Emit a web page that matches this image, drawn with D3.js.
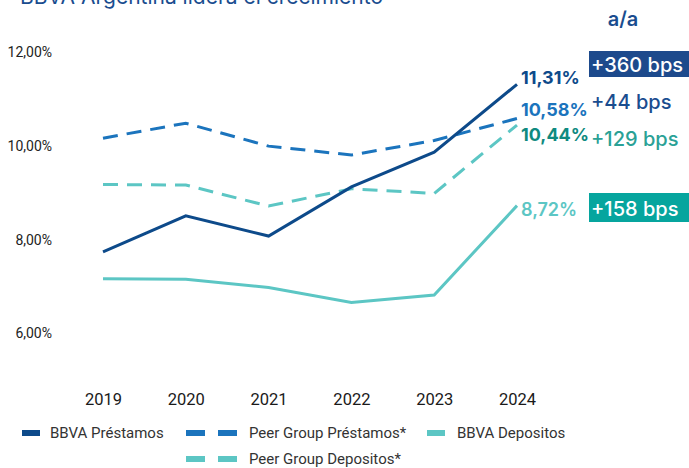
<!DOCTYPE html>
<html><head><meta charset="utf-8">
<script src="https://cdn.jsdelivr.net/npm/d3@7"></script>
<style>body{margin:0;background:#fff}svg{display:block}</style>
</head><body>
<svg id="c" width="689" height="468"></svg>
<script>
const years = ["2019","2020","2021","2022","2023","2024"];
const bbvaPrestamos = [7.73, 8.50, 8.07, 9.12, 9.86, 11.31];
const peerPrestamos = [10.16, 10.48, 9.99, 9.80, 10.11, 10.58];
const bbvaDepositos = [7.16, 7.15, 6.97, 6.65, 6.81, 8.72];
const peerDepositos = [9.17, 9.16, 8.71, 9.08, 8.98, 10.44];
const yTicks = [6, 8, 10, 12];
const endLabels = ["11,31%", "10,58%", "10,44%", "8,72%"];
const bpsLabels = ["+360 bps", "+44 bps", "+129 bps", "+158 bps"];
const legendNames = ["BBVA Préstamos", "Peer Group Préstamos*", "BBVA Depositos", "Peer Group Depositos*"];

const svg = d3.select("#c");
const x = d3.scalePoint().domain(years).range([103, 517]);
const y = d3.scaleLinear().domain([6, 12]).range([333, 52]);

// title (cropped at the top, as in the reference)
svg.append("text").attr("x", 383).attr("y", 4).attr("text-anchor", "end")
  .attr("font-family", "Inter").attr("font-size", 21).attr("fill", "#1a4d8f")
  .text("BBVA Argentina lidera el crecimiento");

svg.append("text").attr("x", 623).attr("y", 26).attr("text-anchor", "middle")
  .attr("font-family", "Inter").attr("font-size", 20).attr("font-weight", 600).attr("fill", "#1a4d8f")
  .text("a/a");

// y axis
const yAxis = d3.axisLeft(y).tickValues(yTicks).tickSize(0).tickPadding(0)
  .tickFormat(d => d3.format(".2f")(d).replace(".", ",") + "%");
const ya = svg.append("g").attr("transform", "translate(52,0)").call(yAxis);
ya.select(".domain").remove();
ya.selectAll("text").attr("font-family", "Roboto").attr("font-size", 14).attr("fill", "#222").attr("dy", "0.35em");

// x axis
const xAxis = d3.axisBottom(x).tickSize(0).tickPadding(0);
const xa = svg.append("g").attr("transform", "translate(0,393)").call(xAxis);
xa.select(".domain").remove();
xa.selectAll("text").attr("font-family", "Roboto").attr("font-size", 16.5).attr("fill", "#1a1a1a");

const series = [
  {vals: bbvaPrestamos, color: "#0d4a8a", dash: null},
  {vals: peerPrestamos, color: "#1b74bd", dash: "15,9"},
  {vals: bbvaDepositos, color: "#5cc6c4", dash: null},
  {vals: peerDepositos, color: "#5cc6c4", dash: "15,9"}
];
const line = d3.line().x((d, i) => x(years[i])).y(d => y(d));
[2, 3, 1, 0].forEach(k => {
  const s = series[k];
  svg.append("path").datum(s.vals).attr("d", line).attr("fill", "none")
    .attr("stroke", s.color).attr("stroke-width", 3)
    .attr("stroke-dasharray", s.dash);
});

// end labels
const endCfg = [
  {y: 84, color: "#0d4a8a", w: 700},
  {y: 116, color: "#1b74bd", w: 700},
  {y: 141, color: "#0f8a80", w: 700},
  {y: 216, color: "#5cc6c4", w: 600}
];
endCfg.forEach((c, i) => {
  svg.append("text").attr("x", 521).attr("y", c.y)
    .attr("font-family", "Inter").attr("font-size", 18).attr("font-weight", c.w)
    .attr("fill", c.color).text(endLabels[i]);
});

// bps labels
svg.append("rect").attr("x", 589).attr("y", 51).attr("width", 100).attr("height", 26).attr("fill", "#1d4a8c");
svg.append("rect").attr("x", 589).attr("y", 193).attr("width", 100).attr("height", 29).attr("fill", "#06a59e");
const bpsCfg = [
  {y: 72, color: "#fff"},
  {y: 109, color: "#1a4d8f"},
  {y: 146, color: "#2aa196"},
  {y: 216, color: "#fff"}
];
bpsCfg.forEach((c, i) => {
  svg.append("text").attr("x", 591).attr("y", c.y)
    .attr("font-family", "Inter").attr("font-size", 20).attr("font-weight", 500)
    .attr("fill", c.color).text(bpsLabels[i]);
});

// legend
const legCfg = [
  {x0: 22, yy: 433, color: "#0d4a8a", dashed: false, tx: 50},
  {x0: 186, yy: 433, color: "#1b74bd", dashed: true, tx: 249},
  {x0: 427, yy: 433, color: "#5cc6c4", dashed: false, tx: 457},
  {x0: 186, yy: 459, color: "#5cc6c4", dashed: true, tx: 249}
];
legCfg.forEach((c, i) => {
  if (c.dashed) {
    svg.append("rect").attr("x", c.x0).attr("y", c.yy - 3).attr("width", 19).attr("height", 6).attr("fill", c.color);
    svg.append("rect").attr("x", c.x0 + 32).attr("y", c.yy - 3).attr("width", 19).attr("height", 6).attr("fill", c.color);
  } else {
    svg.append("rect").attr("x", c.x0).attr("y", c.yy - 3).attr("width", 18).attr("height", 6).attr("fill", c.color);
  }
  svg.append("text").attr("x", c.tx).attr("y", c.yy).attr("dy", "0.35em")
    .attr("font-family", "Roboto").attr("font-size", 15).attr("fill", "#333").text(legendNames[i]);
});
</script>
</body></html>
